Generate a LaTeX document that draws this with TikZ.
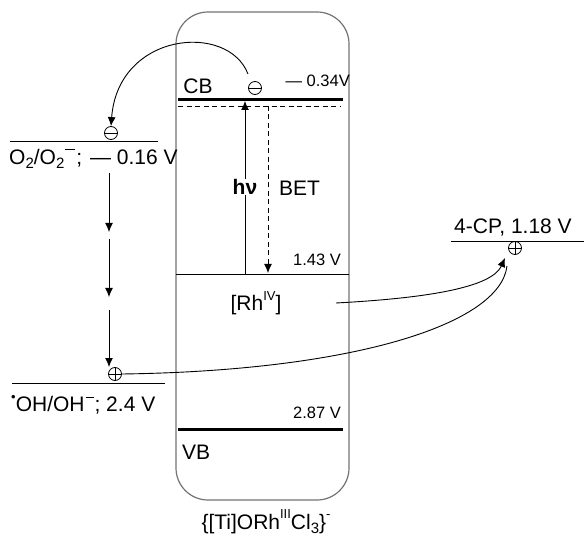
\documentclass[tikz,border=0pt]{standalone}
\usepackage{fontspec}
\setmainfont{Liberation Sans}
\usetikzlibrary{arrows.meta}
\newcommand{\mysub}[1]{\raisebox{-0.22em}{\fontsize{15}{15}\selectfont #1}}
\newcommand{\mysup}[1]{\raisebox{0.5em}{\fontsize{13}{13}\selectfont #1}}
\newcommand{\supminus}[1]{\kern1pt\raisebox{0.68em}{\rule{#1}{1.1pt}}\kern1pt}
\begin{document}
\begin{tikzpicture}[x=1pt,y=-1pt,
  big/.style={font=\fontsize{21}{25}\selectfont, inner sep=0pt},
  small/.style={font=\fontsize{16.5}{20}\selectfont, inner sep=0pt},
  level/.style={line width=0.9pt},
  thicklevel/.style={line width=3pt},
  arr/.style={-{Latex[length=9pt,width=8pt]}, line width=0.9pt},
  dsh/.style={dash pattern=on 5pt off 3.5pt, line width=0.9pt},
  charge/.style={circle, draw, line width=0.8pt, minimum size=13pt, inner sep=0pt},
  eminus/.style={charge, path picture={\draw[line width=0.8pt] (path picture bounding box.west) -- (path picture bounding box.east);}},
  hplus/.style={charge, path picture={\draw[line width=0.8pt] (path picture bounding box.west) -- (path picture bounding box.east) (path picture bounding box.north) -- (path picture bounding box.south);}}
]
\useasboundingbox (0,0) rectangle (584,540);
% box
\node[draw=black!55, line width=1.2pt, rounded corners=32pt, minimum width=173pt, minimum height=488pt, inner sep=0pt] (box) at (262.5,256) {};
% levels
\draw[thicklevel] (178,100) coordinate (cbl) -- (343,100) coordinate (cbr);
\draw[dsh] (178,106) coordinate (dl) -- (341,106) coordinate (dr);
\draw[level] (176,274) coordinate (rhl) -- (349,274) coordinate (rhr);
\draw[thicklevel] (178,429) coordinate (vbl) -- (343,429) coordinate (vbr);
\draw[level] (10,141) coordinate (o2l) -- (158,141) coordinate (o2r);
\draw[level] (12,383) coordinate (ohl) -- (165,383) coordinate (ohr);
\draw[level] (451,241) coordinate (cpl) -- (584,241) coordinate (cpr);
% labels
\node[big] (cb) at (198,86) {CB};
\node[small, anchor=east] (v034) at (350,81) {— 0.34V};
\node[small, anchor=east] (v143) at (341,260) {1.43 V};
\node[small, anchor=east] (v287) at (341,413) {2.87 V};
\node[big, anchor=west] (vb) at (182,452) {VB};
\node[big] (rh) at (256,303) {[Rh\mysup{IV}]};
\node[big, font=\fontsize{21}{25}\selectfont\bfseries] (hv) at (245,187) {hν};
\node[big, anchor=west] (bet) at (279,188) {BET};
\node[big, anchor=west] (o2t) at (9,159) {O\mysub{2}/O\mysub{2}\supminus{10pt};\kern2pt{} — 0.16 V};
\node[big, anchor=west] (oht) at (11,405) {\mysup{•}OH/OH\supminus{8pt}; 2.4 V};
\node[big] (cpt) at (513,228) {4-CP, 1.18 V};
\node[big] (cat) at (266,522) {\{[Ti]ORh\mysup{III}Cl\mysub{3}\}\mysup{-}};
% charges
\node[eminus] (ecb) at (255,88) {};
\node[eminus] (eo2) at (111,133) {};
\node[hplus] (hoh) at (115,374) {};
\node[hplus] (hcp) at (515,248) {};
% coordinates
\coordinate (hvb) at (245,274);
\coordinate (hvt) at (245,101);
\coordinate (betb) at (268,273);
\coordinate (bett) at (268,106);
\coordinate (a1s) at (109,173);
\coordinate (a1e) at (109,232);
\coordinate (a2s) at (109,239);
\coordinate (a2e) at (109,297);
\coordinate (a3s) at (109,310);
\coordinate (a3e) at (109,367);
\coordinate (rhs) at (336,303);
\coordinate (cpe1) at (505,258);
\coordinate (cpe2) at (507,266);
% connectors
\draw[line width=0.9pt] (hvb) -- (hv.south);
\draw[arr] (hv.north) -- (hvt);
\draw[dsh, -{Latex[length=9pt,width=8pt]}] (bett) -- (betb);
\draw[arr] (248,74) .. controls (228,22) and (118,32) .. (eo2.north);
\draw[arr] (a1s) -- (a1e);
\draw[arr] (a2s) -- (a2e);
\draw[arr] (a3s) -- (a3e);
\draw[arr] (rhs) .. controls (430,298) and (492,287) .. (cpe1);
\draw[line width=0.9pt] (hoh.east) .. controls (350,371) and (500,325) .. (cpe2);
\end{tikzpicture}
\end{document}
